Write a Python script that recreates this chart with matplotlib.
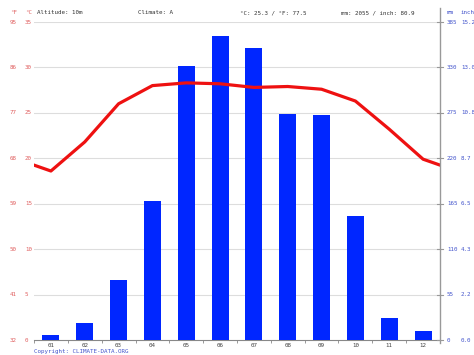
import numpy as np
import matplotlib
matplotlib.use("Agg")
import matplotlib.pyplot as plt
from matplotlib.transforms import blended_transform_factory


# -----------------------------------------------------------
# Datos del climograma
# -----------------------------------------------------------

meses = ["01", "02", "03", "04", "05", "06", "07", "08", "09", "10", "11", "12"]
temp_c = [18.6, 21.8, 26.0, 28.0, 28.3, 28.2, 27.8, 27.9, 27.6, 26.3, 23.2, 19.9]
precip_mm = [6, 21, 73, 168, 332, 368, 353, 274, 273, 150, 27, 11]

ticks_c = [0, 5, 10, 15, 20, 25, 30, 35]
ticks_f = [32, 41, 50, 59, 68, 77, 86, 95]
ticks_mm = [0, 55, 110, 165, 220, 275, 330, 385]
ticks_inch = ["0.0", "2.2", "4.3", "6.5", "8.7", "10.8", "13.0", "15.2"]

cabecera = ["Altitude: 10m", "Climate: A", "°C: 25.3 / °F: 77.5", "mm: 2055 / inch: 80.9"]

ROJO = "#ee1111"
ROJO_TXT = "#e06060"
AZUL = "#0026ff"
AZUL_TXT = "#4455cc"
MONO = "DejaVu Sans Mono"
FS = 4.2

fig = plt.figure(figsize=(4.74, 3.55), dpi=100)
W, H = 474, 355
x0, x1, ytop, ybot = 34, 440, 22, 340
ax = fig.add_axes([x0 / W, 1 - ybot / H, (x1 - x0) / W, (ybot - ytop) / H])
ax2 = ax.twinx()

x = np.arange(1, 13)

# barras de precipitacion
ax2.bar(x, precip_mm, width=0.5, color=AZUL, zorder=2)
ax2.set_ylim(0, 385)
ax2.set_yticks([])

# lineas de grilla
ax.set_ylim(0, 35)
ax.set_xlim(0.5, 12.5)
for t in ticks_c[1:]:
    ax.axhline(t, color="#dddddd", lw=0.8, zorder=0)

# linea de temperatura, cerrada en los bordes
borde = (temp_c[0] + temp_c[-1]) / 2
xs = np.concatenate([[0.5], x, [12.5]])
ys = np.concatenate([[borde], temp_c, [borde]])
ax2.plot(xs, np.array(ys) * 11, color=ROJO, lw=2.3, zorder=3,
         solid_joinstyle="round")

ax.set_zorder(ax2.get_zorder() - 1)
ax2.patch.set_visible(False)

for a in (ax, ax2):
    for s in a.spines.values():
        s.set_visible(False)
ax.set_yticks([])
ax.set_xticks(x)
ax.set_xticklabels(meses, fontsize=FS, family=MONO, color="#444444")
ax.set_xticks(np.arange(0.5, 13, 1), minor=True)
ax.tick_params(axis="x", which="major", length=0, pad=2)
ax.tick_params(axis="x", which="minor", length=2, color="#888888")
ax.spines["bottom"].set_visible(True)
ax.spines["bottom"].set_color("#888888")
ax.spines["bottom"].set_linewidth(0.8)

# eje derecho extendido hacia arriba
fig.add_artist(plt.Line2D([x1 / W, x1 / W], [1 - 343 / H, 1 - 8 / H],
                          color="#999999", lw=1.0))
for t in ticks_mm:
    yy = 1 - (ybot - (ybot - ytop) * t / 385) / H
    fig.add_artist(plt.Line2D([(x1 - 3) / W, (x1 + 3) / W], [yy, yy],
                              color="#999999", lw=0.8))

# etiquetas de los ejes
for c, f in zip(ticks_c, ticks_f):
    yy = 1 - (ybot - (ybot - ytop) * c / 35) / H
    fig.text(10 / W, yy, str(f), fontsize=FS, family=MONO, color=ROJO_TXT, va="center")
    fig.text(25 / W, yy, str(c), fontsize=FS, family=MONO, color=ROJO_TXT, va="center")
for m, i in zip(ticks_mm, ticks_inch):
    yy = 1 - (ybot - (ybot - ytop) * m / 385) / H
    fig.text(447 / W, yy, str(m), fontsize=FS, family=MONO, color=AZUL_TXT, va="center")
    fig.text(461 / W, yy, i, fontsize=FS, family=MONO, color=AZUL_TXT, va="center")

yh = 1 - 13 / H
fig.text(10 / W, yh, "°F", fontsize=FS, family=MONO, color=ROJO_TXT, va="center")
fig.text(25 / W, yh, "°C", fontsize=FS, family=MONO, color=ROJO_TXT, va="center")
fig.text(447 / W, yh, "mm", fontsize=FS, family=MONO, color=AZUL_TXT, va="center")
fig.text(461 / W, yh, "inch", fontsize=FS, family=MONO, color=AZUL_TXT, va="center")
for xx, txt in zip([37, 138, 240, 341], cabecera):
    fig.text(xx / W, yh, txt, fontsize=FS, family=MONO, color="#333333", va="center")

fig.text(34 / W, 1 - 351 / H, "Copyright: CLIMATE-DATA.ORG", fontsize=FS,
         family=MONO, color=AZUL_TXT, va="center")

fig.savefig("out.png", dpi=100)
